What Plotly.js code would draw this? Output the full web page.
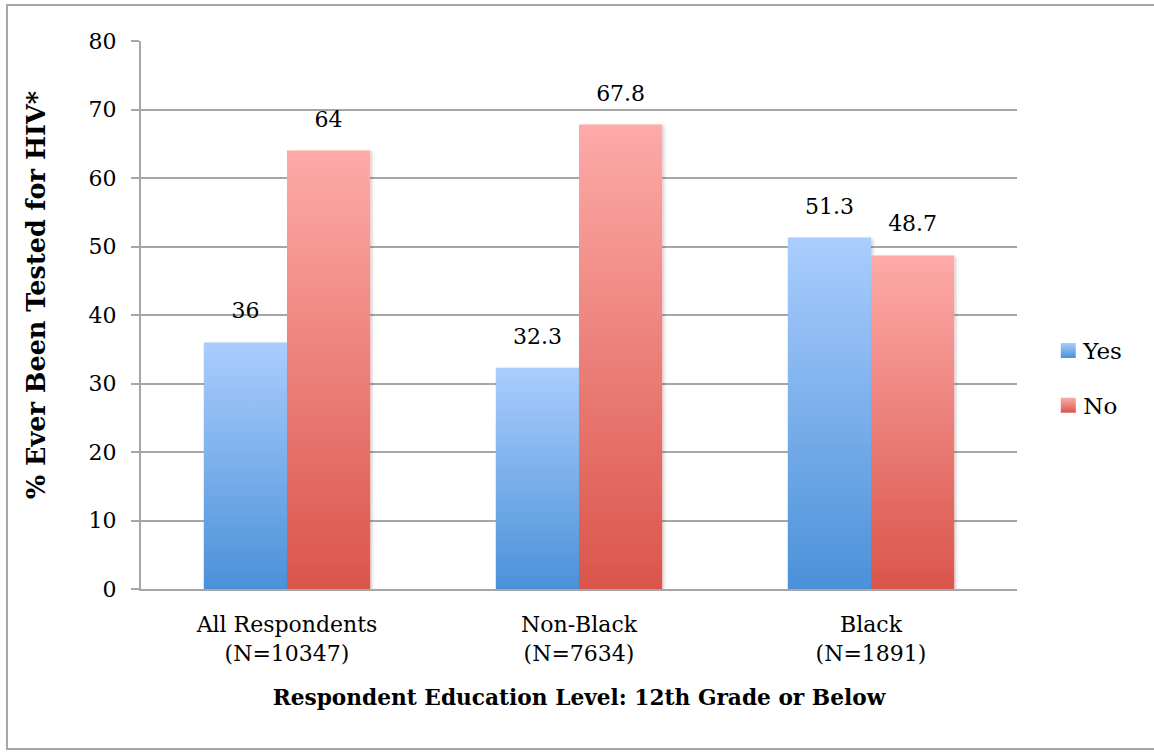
<!DOCTYPE html>
<html>
<head>
<meta charset="utf-8">
<script src="https://cdn.plot.ly/plotly-3.0.1.min.js"></script>
<style>
html,body{margin:0;padding:0;background:#fff;}
#chart{width:1154px;height:753px;}
</style>
</head>
<body>
<div id="chart"></div>
<script>
const categories = ["All Respondents<br>(N=10347)", "Non-Black<br>(N=7634)", "Black<br>(N=1891)"];
const yesValues = [36, 32.3, 51.3];
const noValues = [64, 67.8, 48.7];
const seriesNames = ["Yes", "No"];
const yTickVals = [0, 10, 20, 30, 40, 50, 60, 70, 80];

const FONT = "DejaVu Serif, Liberation Serif, serif";
const GRID = "#a6a6a6";

const traces = [
  {type: "bar", name: seriesNames[0], x: categories, y: yesValues,
   marker: {color: "#7fb0ec"}, text: yesValues.map(String), textposition: "outside",
   textfont: {family: FONT, size: 22, color: "#000"}, cliponaxis: false,
   legendgroup: "a", hoverinfo: "none"},
  {type: "bar", name: seriesNames[1], x: categories, y: noValues,
   marker: {color: "#ef8680"}, text: noValues.map(String), textposition: "outside",
   textfont: {family: FONT, size: 22, color: "#000"}, cliponaxis: false,
   legendgroup: "b", hoverinfo: "none"}
];

const layout = {
  width: 1154, height: 753,
  margin: {l: 141, r: 137, t: 41, b: 164},
  paper_bgcolor: "#fff", plot_bgcolor: "#fff",
  font: {family: FONT, size: 22, color: "#000"},
  barmode: "group", bargap: 0.43, bargroupgap: 0,
  showlegend: true,
  legend: {x: 1.03, xanchor: "left", y: 0.385, yanchor: "middle",
           font: {family: FONT, size: 23, color: "#000"},
           traceorder: "grouped", tracegroupgap: 22, bgcolor: "rgba(0,0,0,0)"},
  xaxis: {
    type: "category", showline: true, linecolor: GRID, linewidth: 2,
    ticks: "", showgrid: false, zeroline: false, ticklabelstandoff: 15,
    tickfont: {family: FONT, size: 22, color: "#000"},
    title: {text: "<b>Respondent Education Level: 12th Grade or Below</b>",
            font: {family: FONT, size: 21.7, color: "#000"}, standoff: 25},
    fixedrange: true
  },
  yaxis: {
    range: [0, 80], tickvals: yTickVals, ticktext: yTickVals.map(String),
    showline: true, linecolor: GRID, linewidth: 2,
    ticks: "outside", ticklen: 8, tickcolor: GRID, tickwidth: 2, ticklabelstandoff: 10,
    showgrid: true, gridcolor: GRID, gridwidth: 2, zeroline: false,
    tickfont: {family: FONT, size: 22, color: "#000"},
    title: {text: "<b>% Ever Been Tested for HIV*</b>",
            font: {family: FONT, size: 25.5, color: "#000"}, standoff: 36},
    fixedrange: true
  },
  shapes: [{type: "rect", xref: "paper", yref: "paper",
            x0: -0.153, x1: 1.25, y0: -0.292, y1: 1.0657,
            line: {color: "#a6a6a6", width: 2}, fillcolor: "rgba(0,0,0,0)", layer: "below"}]
};

const gd = document.getElementById("chart");
Plotly.newPlot(gd, traces, layout, {displayModeBar: false, staticPlot: true}).then(function () {
  const svg = gd.querySelector("svg.main-svg");
  const NS = "http://www.w3.org/2000/svg";
  let defs = svg.querySelector("defs");
  if (!defs) { defs = document.createElementNS(NS, "defs"); svg.insertBefore(defs, svg.firstChild); }
  function grad(id, top, bottom) {
    const g = document.createElementNS(NS, "linearGradient");
    g.setAttribute("id", id);
    g.setAttribute("x1", "0"); g.setAttribute("y1", "0");
    g.setAttribute("x2", "0"); g.setAttribute("y2", "1");
    [[0, top], [1, bottom]].forEach(function (s) {
      const st = document.createElementNS(NS, "stop");
      st.setAttribute("offset", s[0]);
      st.setAttribute("stop-color", s[1]);
      g.appendChild(st);
    });
    defs.appendChild(g);
  }
  grad("gYes", "#aacdfd", "#4b91d9");
  grad("gNo", "#fdaaa8", "#da554b");
  const f = document.createElementNS(NS, "filter");
  f.setAttribute("id", "shadow");
  f.setAttribute("x", "-10%"); f.setAttribute("y", "-10%");
  f.setAttribute("width", "130%"); f.setAttribute("height", "120%");
  const ds = document.createElementNS(NS, "feDropShadow");
  ds.setAttribute("dx", "2"); ds.setAttribute("dy", "1");
  ds.setAttribute("stdDeviation", "1.5");
  ds.setAttribute("flood-color", "#000"); ds.setAttribute("flood-opacity", "0.18");
  f.appendChild(ds); defs.appendChild(f);
  const ids = ["gYes", "gNo"];
  gd.querySelectorAll("g.barlayer g.trace.bars").forEach(function (tr, i) {
    tr.querySelectorAll("path").forEach(function (p) {
      p.style.fill = "url(#" + ids[i] + ")";
      p.setAttribute("filter", "url(#shadow)");
    });
    tr.querySelectorAll("text").forEach(function (t) {
      const g = document.createElementNS(NS, "g");
      t.parentNode.insertBefore(g, t);
      g.appendChild(t);
      g.setAttribute("transform", "translate(0,-16)");
    });
  });
  gd.querySelectorAll("g.legend g.traces").forEach(function (tr, i) {
    tr.querySelectorAll("g.legendpoints path").forEach(function (p) {
      p.style.fill = "url(#" + ids[i] + ")";
      p.style.stroke = "none";
      p.setAttribute("transform", (p.getAttribute("transform") || "") + " translate(5,0) scale(1.25)");
    });
  });
  const yt = gd.querySelector("g.g-ytitle");
  if (yt) yt.setAttribute("transform", "translate(0,-20)");
});
</script>
</body>
</html>
